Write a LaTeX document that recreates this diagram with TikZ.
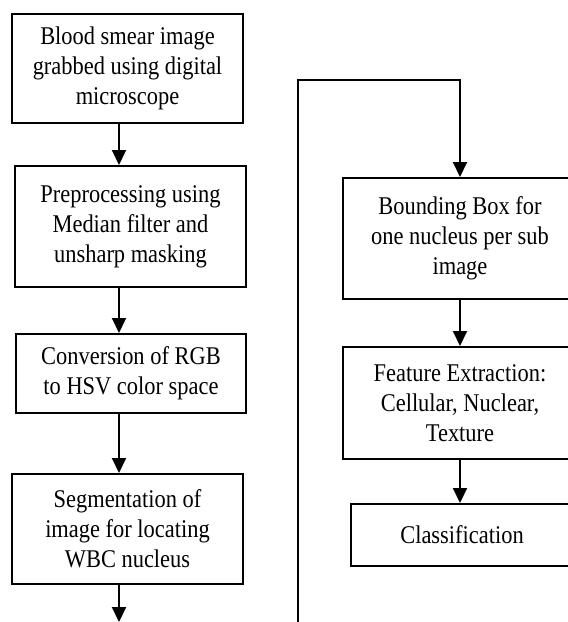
\documentclass[tikz,border=0pt]{standalone}
\usepackage{fontspec}
\setmainfont{Liberation Serif}[FakeStretch=0.88]
\usetikzlibrary{arrows.meta}
\tikzset{
  box/.style={draw, line width=2pt, rectangle, inner sep=0pt, align=center,
    font=\fontsize{25.5}{30}\selectfont},
  arr/.style={line width=2pt, -{Triangle[width=14pt,length=15pt]}},
  ln/.style={line width=2pt}
}
\begin{document}
\begin{tikzpicture}[x=1pt,y=-1pt]
\useasboundingbox (0,0) rectangle (568,622);
\clip (0,0) rectangle (568,622);
\node[box, minimum width=231pt, minimum height=109pt] (b1) at (127.5,68.5)
  {Blood smear image\\grabbed using digital\\microscope};
\node[box, minimum width=231pt, minimum height=121pt] (b2) at (130.5,226.5)
  {Preprocessing using\\Median filter and\\unsharp masking};
\node[box, minimum width=230pt, minimum height=79pt] (b3) at (131,373.5)
  {Conversion of RGB\\to HSV color space};
\node[box, minimum width=231pt, minimum height=110pt] (b4) at (127.5,529)
  {Segmentation of\\image for locating\\WBC nucleus};
\node[box, minimum width=234pt, minimum height=121pt] (b5) at (460,238.5)
  {Bounding Box for\\one nucleus per sub\\image};
\node[box, minimum width=234pt, minimum height=112pt] (b6) at (460,403)
  {Feature Extraction:\\Cellular, Nuclear,\\Texture};
\node[box, minimum width=222pt, minimum height=62pt] (b7) at (462,535)
  {Classification};
\coordinate (ax) at (119,0);
\coordinate (bot) at (0,622);
\coordinate (rs) at (298,626);
\coordinate (rc1) at (298,80);
\coordinate (rc2) at (460,80);
\draw[arr] (b1.south -| ax) -- (b2.north -| ax);
\draw[arr] (b2.south -| ax) -- (b3.north -| ax);
\draw[arr] (b3.south -| ax) -- (b4.north -| ax);
\draw[arr] (b4.south -| ax) -- (ax |- bot);
\draw[arr] (rs) -- (rc1) -- (rc2) -- (b5.north);
\draw[arr] (b5.south) -- (b6.north);
\draw[arr] (b6.south) -- (b6.south |- b7.north);
\end{tikzpicture}
\end{document}
